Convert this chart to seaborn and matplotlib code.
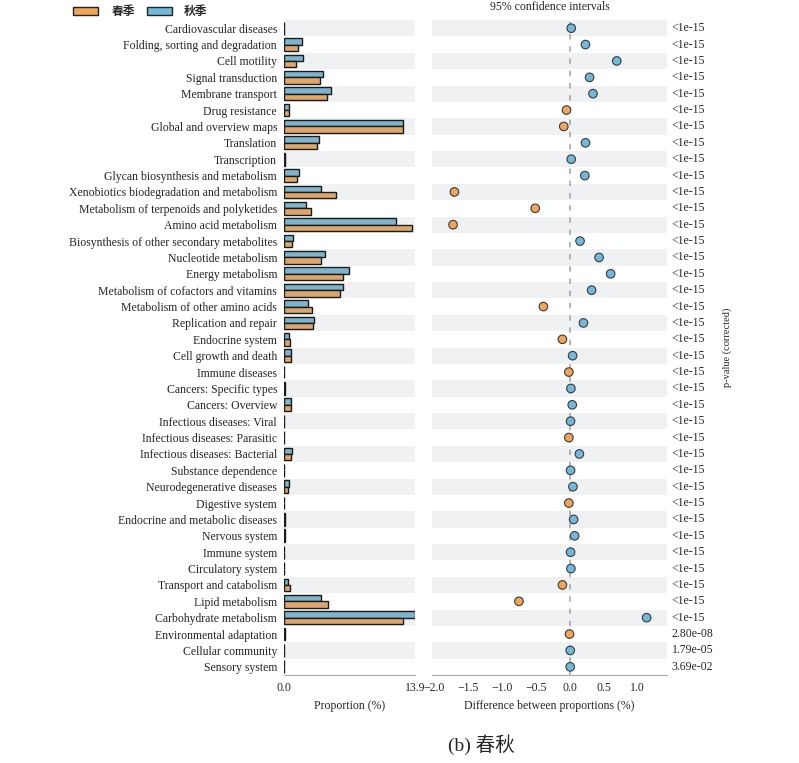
import numpy as np
import pandas as pd
import matplotlib
matplotlib.use('Agg')
import matplotlib.pyplot as plt
import seaborn as sns
from matplotlib.patches import Rectangle

sns.set_style('white')
plt.rcParams['font.family'] = ['Liberation Serif', 'Noto Sans CJK SC', 'DejaVu Sans']

# ── Data ──────────────────────────────────────────────────────────────────────

pathways = [
    'Cardiovascular diseases', 'Folding, sorting and degradation', 'Cell motility',
    'Signal transduction', 'Membrane transport', 'Drug resistance',
    'Global and overview maps', 'Translation', 'Transcription',
    'Glycan biosynthesis and metabolism', 'Xenobiotics biodegradation and metabolism',
    'Metabolism of terpenoids and polyketides', 'Amino acid metabolism',
    'Biosynthesis of other secondary metabolites', 'Nucleotide metabolism',
    'Energy metabolism', 'Metabolism of cofactors and vitamins',
    'Metabolism of other amino acids', 'Replication and repair', 'Endocrine system',
    'Cell growth and death', 'Immune diseases', 'Cancers: Specific types',
    'Cancers: Overview', 'Infectious diseases: Viral', 'Infectious diseases: Parasitic',
    'Infectious diseases: Bacterial', 'Substance dependence', 'Neurodegenerative diseases',
    'Digestive system', 'Endocrine and metabolic diseases', 'Nervous system',
    'Immune system', 'Circulatory system', 'Transport and catabolism',
    'Lipid metabolism', 'Carbohydrate metabolism', 'Environmental adaptation',
    'Cellular community', 'Sensory system',
]

spring = [0.05, 1.5, 1.26, 3.8, 4.6, 0.55, 12.65, 3.45, 0.15, 1.35,
          5.55, 2.85, 13.6, 0.85, 3.95, 6.3, 5.95, 2.98, 3.09, 0.68,
          0.7, 0.05, 0.1, 0.7, 0.05, 0.05, 0.75, 0.05, 0.45, 0.05,
          0.15, 0.15, 0.05, 0.05, 0.6, 4.7, 12.65, 0.15, 0.05, 0.05]

autumn = [0.05, 1.9, 2.0, 4.1, 4.95, 0.55, 12.6, 3.7, 0.15, 1.6,
          3.9, 2.35, 11.85, 1.0, 4.35, 6.93, 6.3, 2.55, 3.23, 0.55,
          0.7, 0.05, 0.1, 0.7, 0.05, 0.05, 0.85, 0.05, 0.5, 0.05,
          0.15, 0.15, 0.05, 0.05, 0.4, 3.9, 13.85, 0.15, 0.05, 0.05]

diff = [0.02, 0.23, 0.69, 0.29, 0.34, -0.05, -0.09, 0.23, 0.02, 0.22,
        -1.70, -0.51, -1.72, 0.15, 0.43, 0.60, 0.32, -0.39, 0.20, -0.11,
        0.04, -0.015, 0.015, 0.035, 0.01, -0.015, 0.14, 0.01, 0.045, -0.015,
        0.055, 0.07, 0.01, 0.015, -0.11, -0.75, 1.13, -0.005, 0.005, 0.005]

pvals = ['<1e-15'] * 37 + ['2.80e-08', '1.79e-05', '3.69e-02']

seasons = ['春季', '秋季']
colors = {'春季': '#EFA65A', '秋季': '#72B8DA'}

n = len(pathways)
pos = np.arange(n)

bars = pd.DataFrame({
    'pathway': pathways * 2,
    'value': spring + autumn,
    'season': ['春季'] * n + ['秋季'] * n,
})
dots = pd.DataFrame({
    'pos': pos,
    'diff': diff,
    'season': ['秋季' if d >= 0 else '春季' for d in diff],
})

# ── Figure ────────────────────────────────────────────────────────────────────

fig = plt.figure(figsize=(7.99, 7.63), dpi=100)
ax1 = fig.add_axes([284 / 799, 1 - 675 / 763, 131 / 799, 655 / 763])
ax2 = fig.add_axes([432 / 799, 1 - 675 / 763, 235 / 799, 655 / 763])

stripe = '#EFF1F3'
for ax in (ax1, ax2):
    for i in range(0, n, 2):
        ax.axhspan(i - 0.5, i + 0.5, color=stripe, lw=0, zorder=0)

# left: proportions
sns.barplot(data=bars, y='pathway', x='value', hue='season',
            hue_order=['秋季', '春季'], palette=colors, orient='h',
            width=0.78, edgecolor='#1a1a1a', linewidth=1.0,
            legend=False, ax=ax1, zorder=2)
ax1.set_xlim(0, 13.9)
ax1.set_ylim(n - 0.5, -0.5)
ax1.set_xticks([0, 13.9])
ax1.set_xticklabels(['0.0', '13.9'])
ax1.set_xlabel('Proportion (%)', fontsize=8.5, labelpad=4)
ax1.set_ylabel('')
ax1.tick_params(axis='y', length=0, pad=5, labelsize=8.5)
ax1.tick_params(axis='x', length=3, width=0.6, color='#999999', labelsize=8.5, pad=2)
for s in ['top', 'right', 'left']:
    ax1.spines[s].set_visible(False)
ax1.spines['bottom'].set_color('#aaaaaa')
ax1.spines['bottom'].set_linewidth(0.8)

# right: differences
ax2.axvline(0, color='#a0a0a0', ls=(0, (3.5, 4.5)), lw=1.1, zorder=1)
sns.scatterplot(data=dots, x='diff', y='pos', hue='season', palette=colors,
                s=38, edgecolor='#3a3a3a', linewidth=0.8, legend=False,
                ax=ax2, zorder=3)
ax2.set_xlim(-2.03, 1.43)
ax2.set_ylim(n - 0.5, -0.5)
ax2.set_xticks(np.arange(-2.0, 1.01, 0.5))
ax2.set_xticklabels(['−2.0', '−1.5', '−1.0', '−0.5', '0.0', '0.5', '1.0'])
ax2.set_yticks([])
ax2.set_xlabel('Difference between proportions (%)', fontsize=8.5, labelpad=4)
ax2.set_ylabel('')
ax2.set_title('95% confidence intervals', fontsize=8.5, pad=7)
ax2.tick_params(axis='x', length=3, width=0.6, color='#999999', labelsize=8.5, pad=2)
for s in ['top', 'right', 'left']:
    ax2.spines[s].set_visible(False)
ax2.spines['bottom'].set_color('#aaaaaa')
ax2.spines['bottom'].set_linewidth(0.8)

for i, p in enumerate(pvals):
    ax2.text(1.02, i, p, transform=ax2.get_yaxis_transform(),
             ha='left', va='center', fontsize=8.5)
fig.text(727 / 799, 1 - 347 / 763, 'p-value (corrected)', rotation=90,
         ha='center', va='center', fontsize=7.5)

# legend
for x0, season, tx in [(73, '春季', 112), (147, '秋季', 184)]:
    fig.patches.append(Rectangle((x0 / 799, 1 - 15 / 763), 25 / 799, 8 / 763,
                                 transform=fig.transFigure, facecolor=colors[season],
                                 edgecolor='#222222', linewidth=1.0))
    fig.text(tx / 799, 1 - 11 / 763, season, ha='left', va='center',
             fontsize=8.5, family=['Noto Sans CJK SC'], fontweight='bold')

fig.text(481 / 799, 1 - 745 / 763, '(b) 春秋', ha='center', va='center',
         fontsize=14, family=['Liberation Serif', 'Noto Sans CJK SC'])

plt.savefig('out.png', dpi=100)
